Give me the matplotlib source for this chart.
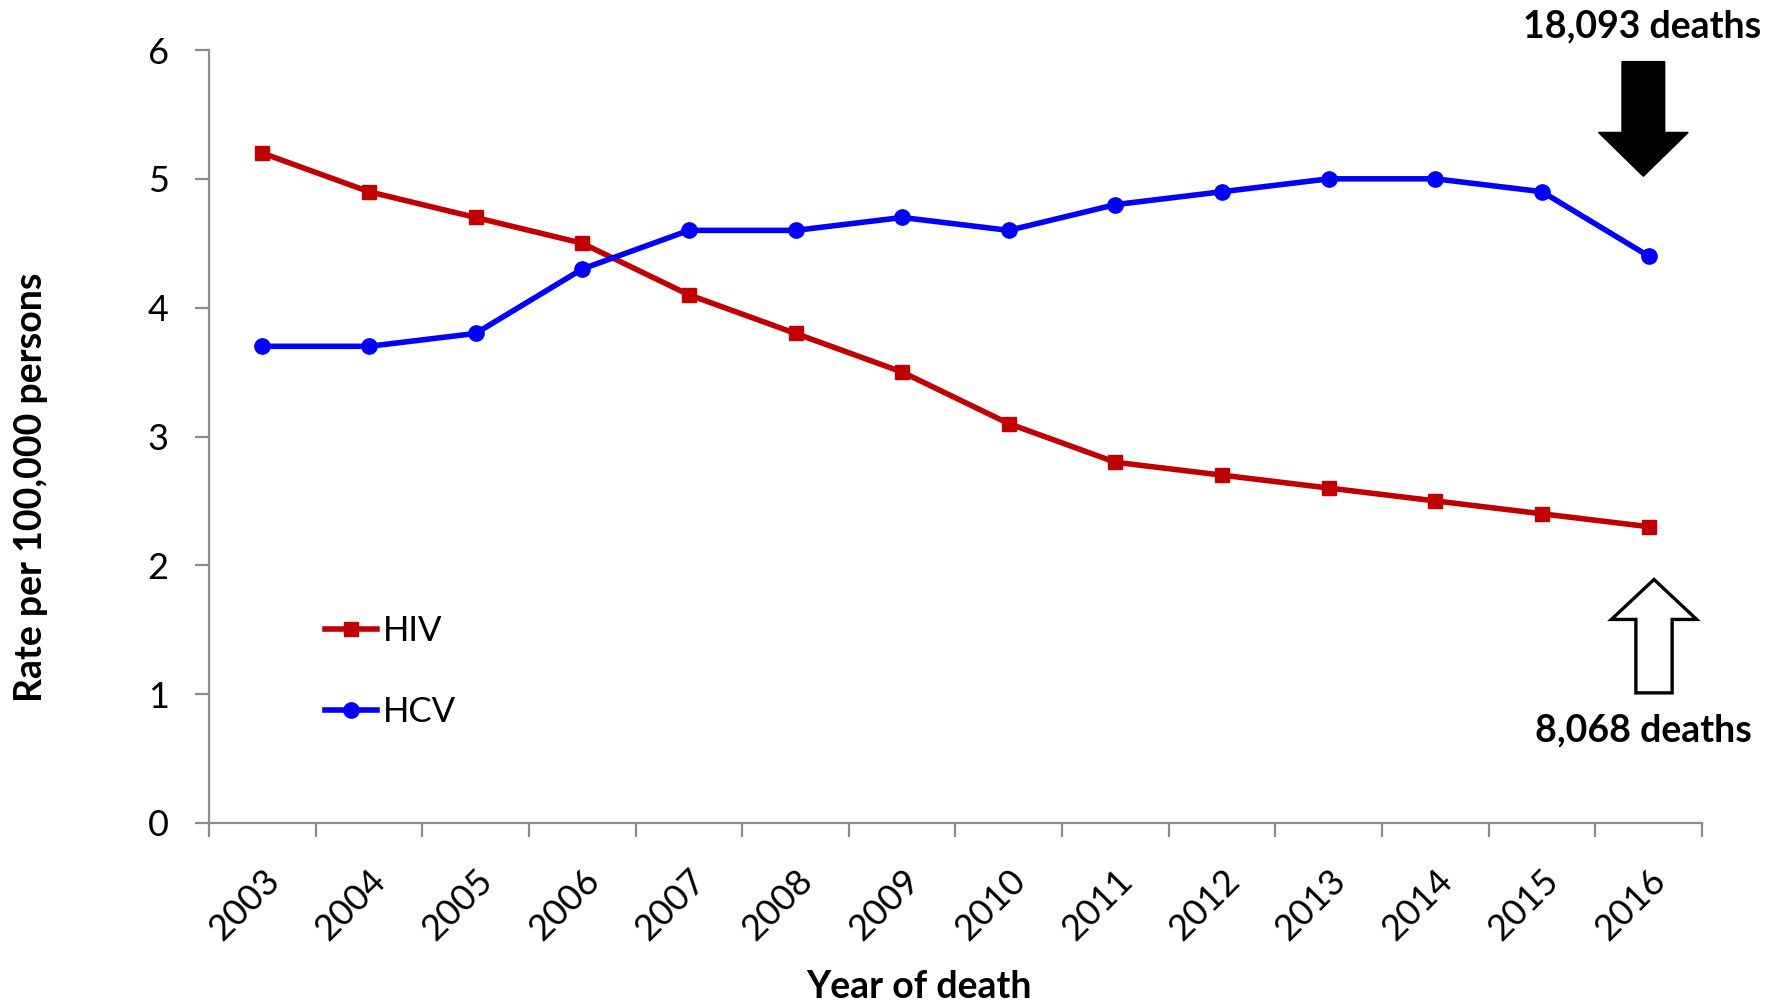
import matplotlib
matplotlib.use("Agg")
import matplotlib.pyplot as plt
from matplotlib.patches import Polygon

plt.rcParams['font.family'] = ['Lato', 'DejaVu Sans']

years = ['2003', '2004', '2005', '2006', '2007', '2008', '2009',
         '2010', '2011', '2012', '2013', '2014', '2015', '2016']
hiv = [5.2, 4.9, 4.7, 4.5, 4.1, 3.8, 3.5, 3.1, 2.8, 2.7, 2.6, 2.5, 2.4, 2.3]
hcv = [3.7, 3.7, 3.8, 4.3, 4.6, 4.6, 4.7, 4.6, 4.8, 4.9, 5.0, 5.0, 4.9, 4.4]
yticks = [0, 1, 2, 3, 4, 5, 6]
hcv_deaths = '18,093 deaths'
hiv_deaths = '8,068 deaths'

fig = plt.figure(figsize=(17.83, 10.06), dpi=100)
ax = fig.add_axes([209/1783, 1-823/1006, (1702-209)/1783, (823-50)/1006])

x = list(range(len(years)))
ax.plot(x, hiv, color='#C00000', lw=4.0, marker='s', ms=9.5, label='HIV')
ax.plot(x, hcv, color='#0000FF', lw=4.0, marker='o', ms=11, label='HCV')

ax.set_xlim(-0.5, len(years) - 0.5)
ax.set_ylim(0, 6)
ax.set_yticks(yticks)
ax.set_yticklabels([str(t) for t in yticks])
ax.set_xticks([i - 0.5 for i in range(len(years) + 1)])
ax.set_xticklabels([])
ax.set_xticks(x, minor=True)
ax.set_xticklabels(years, minor=True)
ax.tick_params(axis='x', which='minor', length=0, pad=29, labelsize=26,
               labelrotation=45)
for lab in ax.get_xticklabels(minor=True):
    lab.set_ha('right')
    lab.set_rotation_mode('anchor')
ax.tick_params(axis='x', which='major', length=10, width=1.6, color='#8c8c8c')
ax.tick_params(axis='y', length=10, width=1.6, color='#8c8c8c', pad=19,
               labelsize=26)

for s in ['top', 'right']:
    ax.spines[s].set_visible(False)
for s in ['left', 'bottom']:
    ax.spines[s].set_color('#8c8c8c')
    ax.spines[s].set_linewidth(1.6)
ax.spines['left'].set_bounds(0, 6)

leg = ax.legend(loc='upper left', bbox_to_anchor=((294-209)/1493, (823-584)/773),
                frameon=False, fontsize=25, handlelength=1.5, handletextpad=0.15,
                labelspacing=1.4)

# arrows (down = HCV, filled; up = HIV, hollow)
xc_d = 12.95
down = [(xc_d - 0.20, 5.91), (xc_d + 0.20, 5.91), (xc_d + 0.20, 5.36),
        (xc_d + 0.42, 5.36), (xc_d, 5.02), (xc_d - 0.42, 5.36), (xc_d - 0.20, 5.36)]
ax.add_patch(Polygon(down, closed=True, facecolor='black', edgecolor='black',
                     clip_on=False))
xc_u = 13.05
up = [(xc_u - 0.17, 1.01), (xc_u + 0.17, 1.01), (xc_u + 0.17, 1.58),
      (xc_u + 0.40, 1.58), (xc_u, 1.89), (xc_u - 0.40, 1.58), (xc_u - 0.17, 1.58)]
ax.add_patch(Polygon(up, closed=True, facecolor='white', edgecolor='black',
                     lw=2.4, clip_on=False, joinstyle='miter'))

fig.text(1642/1783, 1-26/1006, hcv_deaths, ha='center', va='center',
         fontsize=27, fontweight='bold')
fig.text(1643/1783, 1-730/1006, hiv_deaths, ha='center', va='center',
         fontsize=27, fontweight='bold')

fig.text(31/1783, 1-487/1006, 'Rate per 100,000 persons', rotation=90,
         ha='center', va='center', fontsize=27, fontweight='bold')
fig.text(919/1783, 1-987/1006, 'Year of death', ha='center', va='center',
         fontsize=27, fontweight='bold')

fig.savefig('out.png', dpi=100)
